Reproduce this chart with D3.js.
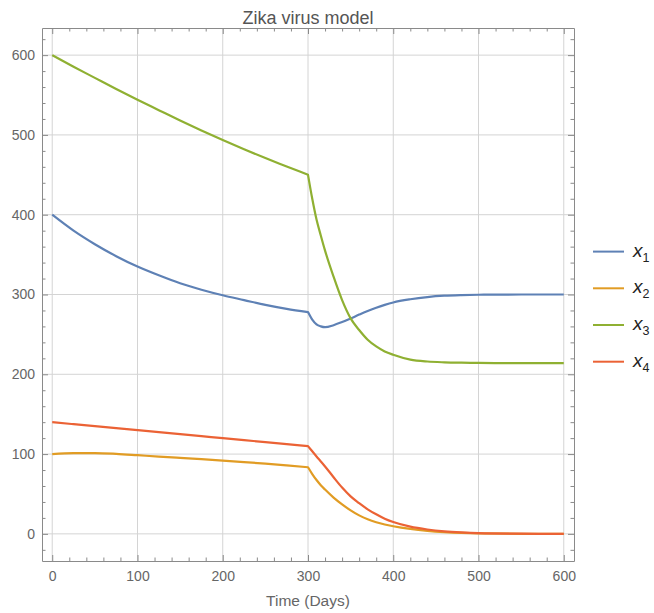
<!DOCTYPE html>
<html>
<head>
<meta charset="utf-8">
<script src="https://cdn.jsdelivr.net/npm/d3@7"></script>
<style>
	body { margin: 0; background: #fff; }
	#chart { width: 654px; height: 613px; }
	text { font-family: 'Liberation Sans', Arial, sans-serif; }
</style>
</head>
<body>
<div id="chart"></div>
<script>
// Values
const days = [0, 25, 50, 75, 100, 125, 150, 175, 200, 225, 250, 275, 300,
	305, 310, 315, 320, 330, 340, 350, 360, 370, 380, 390, 400,
	420, 440, 460, 480, 500, 550, 600];

const x1 = [400, 380, 363, 348, 335, 324, 314, 306, 299, 293, 287, 282, 278,
	268.5, 262.5, 260, 259, 261.5, 265.5, 270, 274.8, 279.4, 283.5, 287, 290,
	294, 296.8, 298.5, 299.3, 299.7, 300, 300];

const x2 = [100, 101.2, 101.3, 100.3, 98.6, 96.8, 95.2, 93.6, 91.9, 90, 88, 85.8, 83.5,
	75, 67.5, 61, 55.5, 45.5, 37, 29.5, 23.2, 18.3, 14.6, 11.8, 9.6,
	6.2, 3.8, 2.2, 1.2, 0.6, 0.1, 0];

const x3 = [600, 585.5, 571.5, 557.5, 544, 531, 518, 505.5, 493.5, 482, 471, 460.5, 450,
	420, 394, 374, 355, 322.3, 293, 270.1, 255.5, 243.3, 234.9, 228.7, 224.5,
	218.4, 216, 215, 214.5, 214.2, 214, 214];

const x4 = [140, 137.5, 135, 132.5, 130, 127.5, 125, 122.5, 120, 117.5, 115, 112.5, 110,
	103.5, 97, 90.8, 84.5, 71, 58, 47, 38.5, 30.8, 24.5, 19, 14.8,
	9, 5.5, 3.2, 1.8, 0.9, 0.2, 0];

// day at which every curve has a corner
const switchDay = 300;

const seriesNames = ['1', '2', '3', '4'];
const seriesColors = ['#5e81b5', '#e19c24', '#8fb032', '#eb6235'];
const xTicks = [0, 100, 200, 300, 400, 500, 600];
const yTicks = [0, 100, 200, 300, 400, 500, 600];

const title = 'Zika virus model';
const xLabel = 'Time (Days)';

const series = [x1, x2, x3, x4].map((vals, i) => ({
	name: seriesNames[i],
	color: seriesColors[i],
	points: days.map((d, j) => [d, vals[j]])
}));

const width = 654,
	height = 613,
	margin = {top: 28, right: 80, bottom: 52, left: 42};

const x = d3.scaleLinear()
	.domain([-12, 612])
	.range([margin.left, width - margin.right]);

const y = d3.scaleLinear()
	.domain([-34, 634])
	.range([height - margin.bottom, margin.top]);

const svg = d3.select('#chart').append('svg')
	.attr('width', width)
	.attr('height', height);

// grid
svg.append('g')
	.selectAll('line')
	.data(xTicks)
	.join('line')
	.attr('x1', d => x(d)).attr('x2', d => x(d))
	.attr('y1', y.range()[0]).attr('y2', y.range()[1])
	.attr('stroke', '#d4d4d4')
	.attr('stroke-width', 1);

svg.append('g')
	.selectAll('line')
	.data(yTicks)
	.join('line')
	.attr('y1', d => y(d)).attr('y2', d => y(d))
	.attr('x1', x.range()[0]).attr('x2', x.range()[1])
	.attr('stroke', '#d4d4d4')
	.attr('stroke-width', 1);

// frame with inward ticks on all four sides
const minorX = d3.range(0, 601, 20).filter(d => d % 100 !== 0);
const minorY = d3.range(-20, 621, 20).filter(d => d % 100 !== 0);

const frameColor = '#8a8a8a';

function sideAxis(axisFn, scale, translate, values, size, labels) {
	const g = svg.append('g')
		.attr('transform', translate)
		.call(axisFn(scale)
			.tickValues(values)
			.tickSize(size)
			.tickSizeOuter(0)
			.tickFormat(labels ? d3.format('d') : ''));
	g.select('.domain').attr('stroke', frameColor);
	g.selectAll('.tick line').attr('stroke', frameColor);
	return g;
}

const plotLeft = x.range()[0], plotRight = x.range()[1];
const plotBottom = y.range()[0], plotTop = y.range()[1];

// major ticks (negative size = pointing into the plot)
const xb = sideAxis(d3.axisBottom, x, `translate(0,${plotBottom})`, xTicks, -6, true);
sideAxis(d3.axisBottom, x, `translate(0,${plotBottom})`, minorX, -3.5, false).select('.domain').remove();
sideAxis(d3.axisTop, x, `translate(0,${plotTop})`, xTicks, -6, false);
sideAxis(d3.axisTop, x, `translate(0,${plotTop})`, minorX, -3.5, false).select('.domain').remove();
const yl = sideAxis(d3.axisLeft, y, `translate(${plotLeft},0)`, yTicks, -6, true);
sideAxis(d3.axisLeft, y, `translate(${plotLeft},0)`, minorY, -3.5, false).select('.domain').remove();
sideAxis(d3.axisRight, y, `translate(${plotRight},0)`, yTicks, -6, false);
sideAxis(d3.axisRight, y, `translate(${plotRight},0)`, minorY, -3.5, false).select('.domain').remove();

xb.selectAll('.tick text')
	.attr('y', 10)
	.attr('dy', '0.71em')
	.style('font-size', '14px')
	.style('fill', '#666');

yl.selectAll('.tick text')
	.attr('x', -7)
	.style('font-size', '14px')
	.style('fill', '#666');

// lines: smooth on each side of the switch day, sharp corner at it
const line = d3.line()
	.x(d => x(d[0]))
	.y(d => y(d[1]))
	.curve(d3.curveMonotoneX);

const pathFor = pts => line(pts.filter(p => p[0] <= switchDay)) +
	line(pts.filter(p => p[0] >= switchDay)).replace(/^M/, 'L');

svg.append('g')
	.selectAll('path')
	.data(series)
	.join('path')
	.attr('d', d => pathFor(d.points))
	.attr('fill', 'none')
	.attr('stroke', d => d.color)
	.attr('stroke-width', 2.2)
	.attr('stroke-linejoin', 'round');

// title and axis label
svg.append('text')
	.attr('x', (plotLeft + plotRight) / 2)
	.attr('y', 24)
	.attr('text-anchor', 'middle')
	.style('font-size', '18px')
	.style('fill', '#555')
	.text(title);

svg.append('text')
	.attr('x', (plotLeft + plotRight) / 2)
	.attr('y', 606)
	.attr('text-anchor', 'middle')
	.style('font-size', '15.5px')
	.style('fill', '#666')
	.text(xLabel);

// legend
const legend = svg.append('g')
	.attr('transform', 'translate(593,251.6)');

const items = legend.selectAll('g')
	.data(series)
	.join('g')
	.attr('transform', (d, i) => `translate(0,${i * 36.7})`);

items.append('line')
	.attr('x1', 0).attr('x2', 31)
	.attr('stroke', d => d.color)
	.attr('stroke-width', 2);

const label = items.append('text')
	.attr('x', 40)
	.attr('y', 5)
	.style('fill', '#222');

label.append('tspan')
	.style('font-size', '19px')
	.style('font-style', 'italic')
	.text('x');

label.append('tspan')
	.attr('dy', 5)
	.style('font-size', '12.5px')
	.text(d => d.name);
</script>
</body>
</html>
